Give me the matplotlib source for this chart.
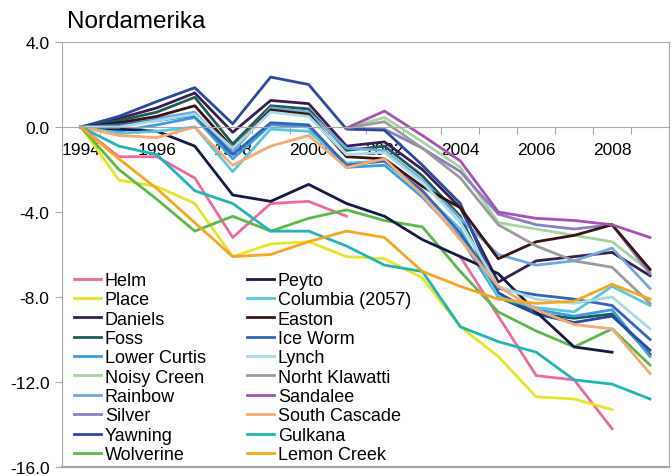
import numpy as np
import matplotlib
matplotlib.use("Agg")
import matplotlib.pyplot as plt
from matplotlib.ticker import FixedLocator, FuncFormatter

nan = np.nan
years = list(range(1994, 2010))

helm = [0, -1.4, -1.4, -2.4, -5.2, -3.6, -3.5, -4.2, nan, nan, -6.1, -8.9, -11.7, -11.9, -14.2, nan]
place = [0, -2.5, -2.8, -3.6, -6.1, -5.5, -5.4, -6.1, -6.2, -7.1, -9.4, -10.8, -12.7, -12.8, -13.3, nan]
daniels = [0, 0.4, 0.9, 1.6, -0.25, 1.25, 1.1, -0.9, -0.7, -2.0, -3.8, -7.3, -6.3, -6.1, -5.9, -7.0]
foss = [0, 0.3, 0.7, 1.4, -0.8, 1.0, 0.85, -1.1, -0.9, -2.3, -4.2, -8.0, -8.8, -9.0, -8.8, -10.7]
lower_curtis = [0, -0.2, 0.1, 0.45, -1.5, 0.1, 0.0, -1.9, -1.8, -3.3, -5.2, -8.0, -8.6, -8.9, -8.6, -10.8]
noisy_creen = [nan] * 7 + [-0.05, 0.45, -0.7, -1.9, -4.5, -4.8, -5.1, -5.4, -6.8]
rainbow = [0, 0.1, 0.4, 0.7, -1.2, 0.9, 0.7, -1.0, -1.1, -2.5, -4.3, -6.0, -6.5, -6.3, -5.7, -7.6]
silver = [nan] * 7 + [-0.05, -0.1, -1.0, -2.1, -4.1, -4.6, -4.8, -4.6, -6.9]
yawning = [0, 0.5, 1.2, 1.85, 0.15, 2.35, 2.0, -0.1, -0.15, -1.8, -3.6, -7.8, -8.8, -9.2, -8.9, -10.5]
wolverine = [0, -2.0, -3.4, -4.9, -4.2, -4.9, -4.3, -3.9, -4.4, -4.7, -6.8, -8.7, -9.6, -10.35, -9.5, -11.2]
peyto = [0, -0.1, -0.2, -0.9, -3.2, -3.5, -2.7, -3.6, -4.2, -5.3, -6.1, -6.9, -8.7, -10.35, -10.6, nan]
columbia = [0, -0.3, -0.2, 0.0, -2.1, -0.1, -0.2, -1.7, -1.6, -3.1, -4.8, -8.0, -8.5, -8.7, -7.5, -8.4]
easton = [0, 0.2, 0.5, 1.0, -1.0, 0.8, 0.6, -1.4, -1.5, -2.8, -3.8, -6.2, -5.4, -5.1, -4.6, -6.7]
ice_worm = [0, 0.1, 0.3, 0.55, -1.3, 0.2, 0.1, -1.8, -1.6, -3.0, -5.0, -7.6, -7.9, -8.1, -8.4, -10.0]
lynch = [0, 0.0, 0.3, 0.6, -1.0, 0.7, 0.5, -1.3, -1.2, -2.6, -4.5, -7.5, -8.1, -8.3, -8.0, -9.5]
norht_klawatti = [nan] * 7 + [-0.05, 0.25, -1.0, -2.4, -4.6, -5.6, -6.3, -6.6, -8.3]
sandalee = [nan] * 7 + [-0.05, 0.75, -0.4, -1.6, -4.0, -4.3, -4.4, -4.6, -5.2]
south_cascade = [0, -0.4, -0.5, 0.0, -1.8, -0.9, -0.4, -1.9, -1.5, -3.2, -5.3, -7.5, -8.6, -9.3, -9.5, -11.6]
gulkana = [0, -0.9, -1.3, -3.0, -3.6, -4.9, -4.9, -5.6, -6.5, -6.8, -9.4, -10.1, -10.6, -11.9, -12.1, -12.8]
lemon_creek = [0, -1.5, -2.9, -4.5, -6.1, -6.0, -5.4, -4.9, -5.2, -6.8, -7.5, -8.1, -8.3, -8.2, -7.4, -8.1]

series = [
    ("Helm", helm, "#ec6aa0"),
    ("Place", place, "#e4e42a"),
    ("Daniels", daniels, "#3a1d52"),
    ("Foss", foss, "#1e5a55"),
    ("Lower Curtis", lower_curtis, "#3a9ede"),
    ("Noisy Creen", noisy_creen, "#a6d49e"),
    ("Rainbow", rainbow, "#6ea8dc"),
    ("Silver", silver, "#8a7ec2"),
    ("Yawning", yawning, "#2a4a9c"),
    ("Wolverine", wolverine, "#5cb84a"),
    ("Peyto", peyto, "#141a48"),
    ("Columbia (2057)", columbia, "#5cc6da"),
    ("Easton", easton, "#3a1212"),
    ("Ice Worm", ice_worm, "#3464b4"),
    ("Lynch", lynch, "#a8dae4"),
    ("Norht Klawatti", norht_klawatti, "#9a9a9a"),
    ("Sandalee", sandalee, "#a452b2"),
    ("South Cascade", south_cascade, "#f4aa72"),
    ("Gulkana", gulkana, "#22b4b4"),
    ("Lemon Creek", lemon_creek, "#f5a623"),
]

plt.rcParams['font.family'] = ['Liberation Sans', 'DejaVu Sans']

fig = plt.figure(figsize=(6.72, 4.77), dpi=100)
ax = fig.add_axes([62 / 672, 1 - 468 / 477, 607 / 672, 425 / 477])

for name, vals, col in series:
    ax.plot(years, vals, color=col, lw=2, label=name)

ax.set_xlim(1993.5, 2009.5)
ax.set_ylim(-16, 4)

frame = "#a6a6a6"
for s in ["left", "top", "right", "bottom"]:
    ax.spines[s].set_color(frame)
ax.spines["bottom"].set_position(("data", 0))
ax.axhline(-16, color=frame, lw=1.6, clip_on=False)

# category-style x axis: ticks between years, labels on even years
ax.xaxis.set_major_locator(FixedLocator([y + 0.5 for y in years[:-1]]))
ax.xaxis.set_minor_locator(FixedLocator(years[::2]))
ax.xaxis.set_major_formatter(FuncFormatter(lambda v, p: ""))
ax.xaxis.set_minor_formatter(FuncFormatter(lambda v, p: "%d" % round(v)))
ax.tick_params(axis="x", which="major", length=5, color=frame, direction="out")
ax.tick_params(axis="x", which="minor", length=0, pad=11, labelsize=12.5)

ax.set_yticks([4, 0, -4, -8, -12, -16])
ax.yaxis.set_major_formatter(FuncFormatter(lambda v, p: "%.1f" % v))
ax.tick_params(axis="y", length=5, color=frame, labelsize=12.5, pad=4)

fig.text(67 / 672, 1 - 22 / 477, "Nordamerika", fontsize=17.5, va="center", ha="left")

ax.legend(loc="lower left", ncol=2, frameon=False, fontsize=13,
          handlelength=1.5, handletextpad=0.2, labelspacing=0.13,
          columnspacing=2.3, borderaxespad=0.0, bbox_to_anchor=(0.008, -0.008))

fig.savefig("out.png", dpi=100)
